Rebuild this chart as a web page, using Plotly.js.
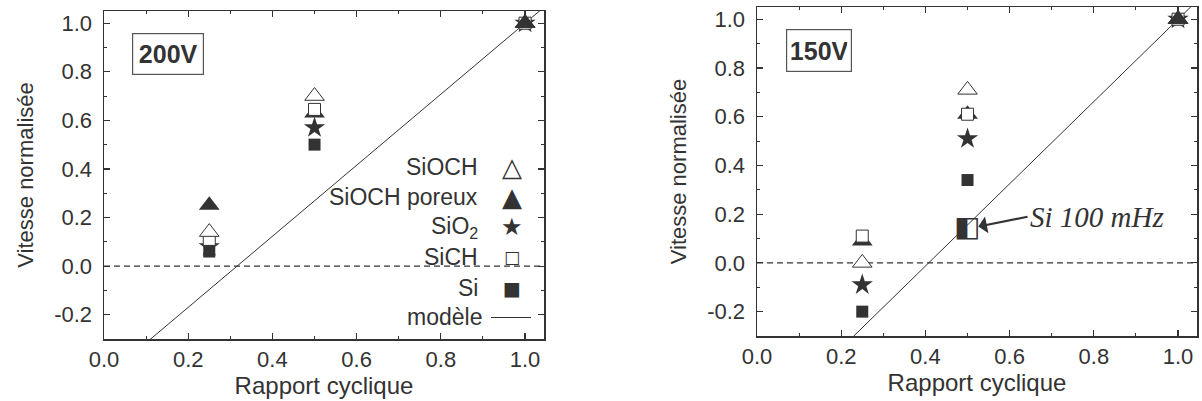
<!DOCTYPE html>
<html>
<head>
<meta charset="utf-8">
<script src="https://cdn.plot.ly/plotly-3.0.1.min.js"></script>
<style>html,body{margin:0;padding:0;background:#fff}#chart{width:1202px;height:401px}</style>
</head>
<body>
<div id="chart"></div>
<script>
// ---- data ----
const cycle = [0.25, 0.5, 1.0];
// 200 V panel
const siochL  = [0.14, 0.70, 1.0];
const poreuxL = [0.25, 0.63, 1.0];
const sio2L   = [0.08, 0.57, 1.0];
const sichL   = [0.11, 0.645, 1.0];
const siL     = [0.06, 0.50, 1.0];
const modelLX = [0.0, 1.05];
const modelLY = [-0.462, 1.073];
// 150 V panel
const siochR  = [0.00, 0.71, 1.0];
const poreuxR = [0.09, 0.61, 1.0];
const sio2R   = [-0.09, 0.51, 1.0];
const sichR   = [0.11, 0.61, 1.0];
const siR     = [-0.20, 0.34, 1.0];
const si100X  = [0.5];
const si100Y  = [0.14];
const modelRX = [0.0, 1.05];
const modelRY = [-0.688, 1.084];
// ticks
const xTickVals = [0, 0.2, 0.4, 0.6, 0.8, 1.0];
const xTickText = ['0.0', '0.2', '0.4', '0.6', '0.8', '1.0'];
const yTickVals = [-0.2, 0, 0.2, 0.4, 0.6, 0.8, 1.0];
const yTickText = ['-0.2', '0.0', '0.2', '0.4', '0.6', '0.8', '1.0'];
const legendNames = ['SiOCH', 'SiOCH poreux', 'SiO<sub>2</sub>', 'SiCH', 'Si', 'modèle'];
const legendGlyphs = ['△', '▲', '★', '□', '■', ''];

// ---- styles ----
const DARK = '#333';
const FONT = 'Liberation Sans, Arial, sans-serif';
const openTri = {symbol: 'triangle-up', size: 17, color: '#fff', line: {color: DARK, width: 1}};
const fillTri = {symbol: 'triangle-up', size: 18, color: DARK, line: {color: DARK, width: 0}};
const star = {symbol: 'star', size: 16, color: DARK, line: {width: 0}};
const openSq = {symbol: 'square', size: 12, color: '#fff', line: {color: DARK, width: 1}};
const fillSq = {symbol: 'square', size: 12, color: DARK, line: {width: 0}};

function pts(x, y, marker, xa, ya) {
  return {x: x, y: y, type: 'scatter', mode: 'markers', marker: marker, xaxis: xa, yaxis: ya,
          showlegend: false, cliponaxis: false, hoverinfo: 'skip'};
}
function line(x, y, xa, ya) {
  return {x: x, y: y, type: 'scatter', mode: 'lines', line: {color: DARK, width: 1}, xaxis: xa, yaxis: ya,
          showlegend: false, hoverinfo: 'skip'};
}

const traces = [
  line(modelLX, modelLY, 'x', 'y'),
  pts(cycle, poreuxL, fillTri, 'x', 'y'),
  pts(cycle, sio2L, star, 'x', 'y'),
  pts(cycle, siL, fillSq, 'x', 'y'),
  pts(cycle, sichL, openSq, 'x', 'y'),
  pts(cycle, siochL, openTri, 'x', 'y'),
  pts(cycle.slice(-1), poreuxL.slice(-1), fillTri, 'x', 'y'),

  line(modelRX, modelRY, 'x2', 'y2'),
  pts(cycle, poreuxR, fillTri, 'x2', 'y2'),
  pts(cycle, sio2R, star, 'x2', 'y2'),
  pts(cycle, siR, fillSq, 'x2', 'y2'),
  pts(cycle, sichR, openSq, 'x2', 'y2'),
  pts(cycle, siochR, openTri, 'x2', 'y2'),
  pts(cycle.slice(-1), poreuxR.slice(-1), fillTri, 'x2', 'y2'),
  {x: si100X, y: si100Y, type: 'scatter', mode: 'text', text: ['◧'], xaxis: 'x2', yaxis: 'y2',
   textposition: 'middle center', textfont: {family: 'DejaVu Sans', size: 28, color: DARK},
   showlegend: false, cliponaxis: false, hoverinfo: 'skip'}
];

function xAxis(domain, anchor) {
  return {domain: domain, anchor: anchor, range: [0, 1.045], tickmode: 'array', tickvals: xTickVals, ticktext: xTickText,
    ticks: 'inside', ticklen: 6, tickwidth: 1.2, tickcolor: DARK, showline: true, linecolor: DARK, linewidth: 1.5,
    mirror: 'ticks', showgrid: false, zeroline: false, ticklabelstandoff: 0,
    minor: {tickmode: 'linear', tick0: 0, dtick: 0.1, ticks: 'inside', ticklen: 3, tickcolor: DARK, tickwidth: 1},
    tickfont: {family: FONT, size: 22, color: DARK},
    title: {text: 'Rapport cyclique', font: {family: FONT, size: 24, color: DARK}, standoff: 2}};
}
function yAxis(domain, anchor) {
  return {domain: domain, anchor: anchor, range: [-0.3, 1.05], tickmode: 'array', tickvals: yTickVals, ticktext: yTickText,
    ticks: 'inside', ticklen: 6, tickwidth: 1.2, tickcolor: DARK, showline: true, linecolor: DARK, linewidth: 1.5,
    mirror: 'ticks', showgrid: false, zeroline: false, ticklabelstandoff: 6,
    minor: {tickmode: 'linear', tick0: 0, dtick: 0.1, ticks: 'inside', ticklen: 3, tickcolor: DARK, tickwidth: 1},
    tickfont: {family: FONT, size: 22, color: DARK},
    title: {text: 'Vitesse normalisée', font: {family: FONT, size: 22, color: DARK}, standoff: 14}};
}

const W = 1202, H = 401;
const px = v => v / W, py = v => 1 - v / H;

const annotations = [
  {xref: 'x', yref: 'y', x: 0.153, y: 0.874, text: '<b>200V</b>', showarrow: false, width: 62, height: 32,
   font: {family: FONT, size: 25, color: DARK}, bordercolor: '#555', borderwidth: 1.2, borderpad: 4, bgcolor: '#fff'},
  {xref: 'x2', yref: 'y2', x: 0.148, y: 0.873, text: '<b>150V</b>', showarrow: false, width: 56, height: 33,
   font: {family: FONT, size: 25, color: DARK}, bordercolor: '#555', borderwidth: 1.2, borderpad: 4, bgcolor: '#fff'},
  {xref: 'x2', yref: 'y2', x: si100X[0], y: si100Y[0], text: '<i>Si 100 mHz</i>', showarrow: true,
   ax: 60, ay: -12, xanchor: 'left', standoff: 11, arrowhead: 1, arrowsize: 1.3, arrowwidth: 2.2, arrowcolor: DARK,
   font: {family: 'Liberation Serif, Times New Roman, serif', size: 29, color: DARK}}
];
const rowsY = [166.7, 197.3, 227.3, 256.7, 288.3, 316.7];
const glyphSizes = [26, 26, 24, 17, 19, 0];
legendNames.forEach((n, i) => {
  annotations.push({xref: 'paper', yref: 'paper', x: px(i === 5 ? 484 : 480), y: py(rowsY[i]), xanchor: 'right', yanchor: 'middle',
    text: n, showarrow: false, font: {family: FONT, size: 23, color: DARK}});
  if (legendGlyphs[i]) {
    annotations.push({xref: 'paper', yref: 'paper', x: px(512), y: py(rowsY[i]), xanchor: 'center', yanchor: 'middle',
      text: legendGlyphs[i], showarrow: false, font: {family: 'DejaVu Sans', size: glyphSizes[i], color: DARK}});
  }
});

const layout = {
  width: W, height: H, margin: {l: 0, r: 0, t: 0, b: 0}, paper_bgcolor: '#fff', plot_bgcolor: '#fff',
  showlegend: false,
  xaxis: xAxis([px(104), px(544)], 'y'),
  yaxis: yAxis([py(339), py(11)], 'x'),
  xaxis2: xAxis([px(757), px(1197)], 'y2'),
  yaxis2: yAxis([py(336), py(7)], 'x2'),
  shapes: [
    {type: 'line', xref: 'x domain', yref: 'y', x0: 0, x1: 1, y0: 0, y1: 0, layer: 'below', line: {color: DARK, width: 1.2, dash: '6px,4px'}},
    {type: 'line', xref: 'x2 domain', yref: 'y2', x0: 0, x1: 1, y0: 0, y1: 0, layer: 'below', line: {color: DARK, width: 1.2, dash: '6px,4px'}},
    {type: 'line', xref: 'paper', yref: 'paper', x0: px(491), x1: px(531), y0: py(317.5), y1: py(317.5), line: {color: DARK, width: 1}}
  ],
  annotations: annotations
};

Plotly.newPlot('chart', traces, layout, {staticPlot: true, displayModeBar: false});
</script>
</body>
</html>
